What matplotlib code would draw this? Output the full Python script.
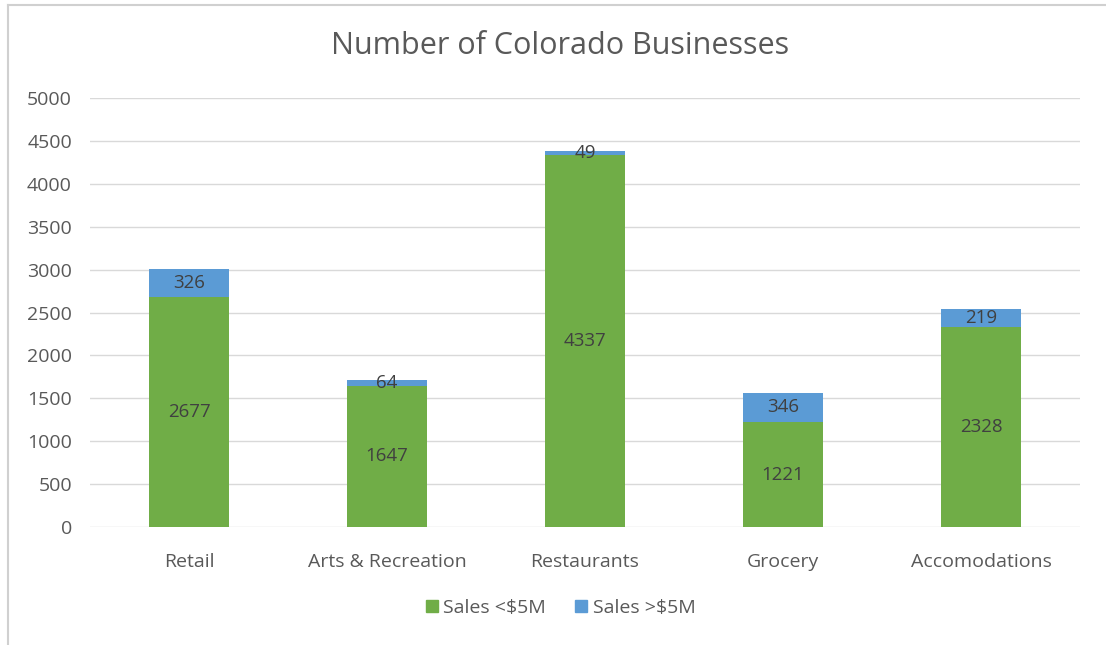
import numpy as np
import matplotlib.pyplot as plt
from matplotlib.lines import Line2D

plt.rcParams['font.family'] = ['Open Sans', 'DejaVu Sans']

categories = ['Retail', 'Arts & Recreation', 'Restaurants', 'Grocery', 'Accomodations']
sales_under = [2677, 1647, 4337, 1221, 2328]
sales_over = [326, 64, 49, 346, 219]
series_names = ['Sales <$5M', 'Sales >$5M']

green = '#70AD47'
blue = '#5B9BD5'
txt = '#595959'

fig = plt.figure(figsize=(11.06, 6.45), dpi=100)
ax = fig.add_axes([0.0814, 0.1829, 0.8951, 0.6651])

x = np.arange(len(categories))
ax.bar(x, sales_under, width=0.4, color=green, zorder=3)
ax.bar(x, sales_over, width=0.4, bottom=sales_under, color=blue, zorder=3)

for i in range(len(categories)):
    ax.text(x[i], sales_under[i] / 2, str(sales_under[i]), ha='center', va='center',
            fontsize=13.5, color='#404040', zorder=4)
    ax.text(x[i], sales_under[i] + sales_over[i] / 2, str(sales_over[i]), ha='center',
            va='center', fontsize=13.5, color='#404040', zorder=4)

ax.set_xlim(-0.5, 4.5)
ax.set_ylim(0, 5000)
ax.set_yticks(np.arange(0, 5001, 500))
ax.set_xticks(x)
ax.set_xticklabels(categories)
ax.tick_params(axis='both', length=0, labelsize=14, colors=txt)
ax.tick_params(axis='x', pad=19)
ax.tick_params(axis='y', pad=13)
ax.grid(axis='y', color='#D9D9D9', linewidth=1, zorder=0)
for s in ax.spines.values():
    s.set_visible(False)

fig.text(0.506, 0.928, 'Number of Colorado Businesses', ha='center', va='center',
         fontsize=22, color=txt)

handles = [plt.Rectangle((0, 0), 1, 1, color=green), plt.Rectangle((0, 0), 1, 1, color=blue)]
fig.legend(handles, series_names, loc='center', bbox_to_anchor=(0.507, 0.058), ncol=2,
           frameon=False, fontsize=14, handlelength=0.6, handleheight=0.6,
           handletextpad=0.3, columnspacing=1.5, labelcolor=txt)

# outer chart border (left and top edges visible)
fig.add_artist(Line2D([0.0075, 0.0075], [0, 0.992], transform=fig.transFigure,
                      color='#D0D0D0', linewidth=1.5))
fig.add_artist(Line2D([0.0075, 1], [0.992, 0.992], transform=fig.transFigure,
                      color='#D0D0D0', linewidth=1.5))

fig.savefig('out.png', dpi=100)
